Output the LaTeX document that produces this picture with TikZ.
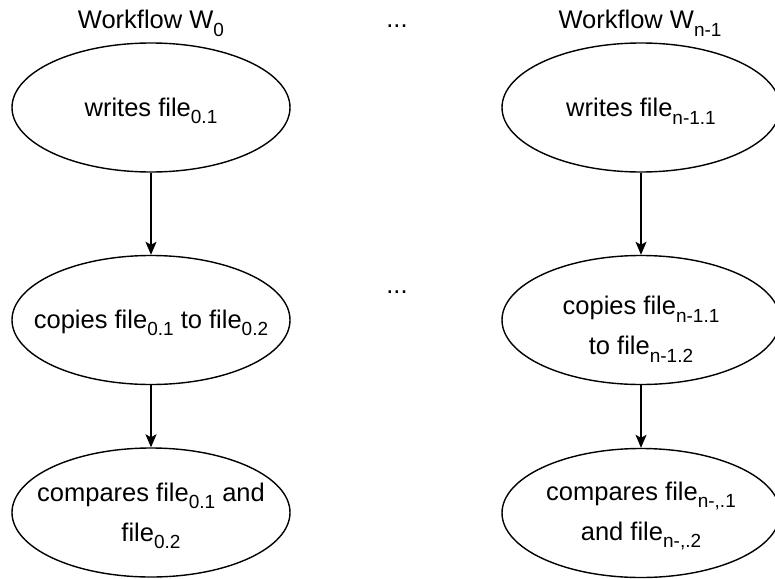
\documentclass[tikz,border=0pt]{standalone}
\usepackage{fontspec}
\setmainfont{Liberation Sans}
\usetikzlibrary{arrows.meta,shapes.geometric}
% lowered, smaller index text
\newcommand{\lo}[1]{\raisebox{-0.3em}{\fontsize{19}{19}\selectfont #1}}

\begin{document}
\begin{tikzpicture}[x=1pt,y=-1pt,
  wfnode/.style={draw, line width=1.4pt, ellipse, minimum width=278pt, minimum height=129pt, inner sep=0pt},
  lbl/.style={align=center, font=\fontsize{25.5}{40}\selectfont, inner sep=0pt},
  head/.style={font=\fontsize{25.5}{30}\selectfont, anchor=base, inner sep=0pt},
  flow/.style={-{Stealth[length=13pt,width=11pt,inset=3pt]}, line width=1.4pt}]
  \useasboundingbox (0,0) rectangle (775,578);

  % column headings
  \node[head] (h0) at (151,29) {Workflow W\lo{0}};
  \node[head] (hd) at (397,28) {...};
  \node[head] (h1) at (640,29) {Workflow W\lo{n-1}};
  \node[head] (md) at (397,293) {...};

  % workflow W0
  \node[wfnode] (a1) at (151,107.5) {};
  \node[wfnode] (a2) at (151,320) {};
  \node[wfnode] (a3) at (151,512.5) {};
  \node[lbl] (ta1) at (151,111) {writes file\lo{0.1}};
  \node[lbl] (ta2) at (151,323) {copies file\lo{0.1} to file\lo{0.2}};
  \node[lbl] (ta3) at (151,516) {compares file\lo{0.1} and\\file\lo{0.2}};

  % workflow W_{n-1}
  \node[wfnode] (b1) at (641,107.5) {};
  \node[wfnode] (b2) at (641,320) {};
  \node[wfnode] (b3) at (641,513) {};
  \node[lbl] (tb1) at (641,111) {writes file\lo{n-1.1}};
  \node[lbl] (tb2) at (641,329) {copies file\lo{n-1.1}\\to file\lo{n-1.2}};
  \node[lbl] (tb3) at (641,516) {compares file\lo{n-,.1}\\and file\lo{n-,.2}};

  % flow between steps
  \draw[flow] (a1) -- (a2);
  \draw[flow] (a2) -- (a3);
  \draw[flow] (b1) -- (b2);
  \draw[flow] (b2) -- (b3);
\end{tikzpicture}
\end{document}
